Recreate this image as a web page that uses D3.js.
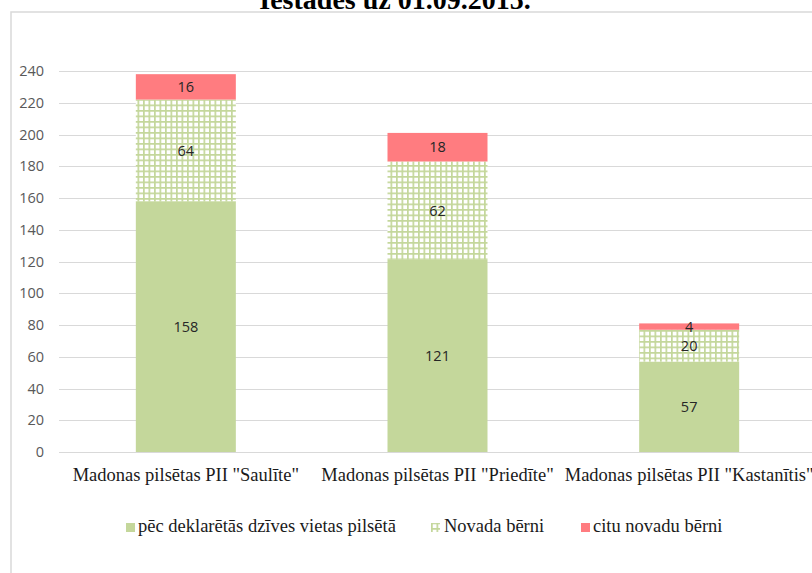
<!DOCTYPE html>
<html>
<head>
<meta charset="utf-8">
<script src="https://cdn.jsdelivr.net/npm/d3@7"></script>
<style>
  body { margin: 0; background: #fff; overflow: hidden; }
</style>
</head>
<body>
<div id="chart"></div>
<script>
// chart data
const categories = ['Madonas pilsētas PII "Saulīte"', 'Madonas pilsētas PII "Priedīte"', 'Madonas pilsētas PII "Kastanītis"'];
const seriesNames = ['pēc deklarētās dzīves vietas pilsētā', 'Novada bērni', 'citu novadu bērni'];
const cityValues = [158, 121, 57];
const regionValues = [64, 62, 20];
const otherValues = [16, 18, 4];
const yTicks = [0, 20, 40, 60, 80, 100, 120, 140, 160, 180, 200, 220, 240];
const title = 'Iestādes uz 01.09.2015.';

const width = 812, height = 573;
const green = '#C4D79B', red = '#FF7C80';

const svg = d3.select('#chart').append('svg')
    .attr('width', width)
    .attr('height', height);

// hatch pattern for "Novada bērni"
const defs = svg.append('defs');
const pat = defs.append('pattern')
    .attr('id', 'grid')
    .attr('patternUnits', 'userSpaceOnUse')
    .attr('width', 5.5)
    .attr('height', 5.5);
pat.append('rect').attr('width', 5.5).attr('height', 5.5).attr('fill', '#fff');
pat.append('rect').attr('x', 0).attr('y', 0).attr('width', 1.7).attr('height', 5.5).attr('fill', green);
pat.append('rect').attr('x', 0).attr('y', 0).attr('width', 5.5).attr('height', 1.7).attr('fill', green);

// chart frame
svg.append('rect')
    .attr('x', 11).attr('y', 12)
    .attr('width', 900).attr('height', 700)
    .attr('fill', 'none')
    .attr('stroke', '#d9d9d9')
    .attr('stroke-width', 1.5);

// title (mostly cut off above the frame, as in the source)
svg.append('text')
    .attr('x', 395).attr('y', 9)
    .attr('text-anchor', 'middle')
    .style('font-family', '"Liberation Serif", "Times New Roman", serif')
    .style('font-weight', 'bold')
    .style('font-size', '28px')
    .text(title);

const x = d3.scaleBand().domain(categories).range([60, 815]);
const y = d3.scaleLinear().domain([0, 240]).range([452, 71]);
const barWidth = 100;

// gridlines
svg.append('g')
    .selectAll('line')
    .data(yTicks)
    .join('line')
    .attr('x1', 59).attr('x2', width)
    .attr('y1', d => Math.round(y(d)) + 0.5)
    .attr('y2', d => Math.round(y(d)) + 0.5)
    .attr('stroke', '#d9d9d9')
    .attr('stroke-width', 1);

// y axis labels
const yAxis = svg.append('g')
    .attr('transform', 'translate(59,0)')
    .call(d3.axisLeft(y).tickValues(yTicks).tickSize(0).tickPadding(15));
yAxis.select('.domain').remove();
yAxis.selectAll('text')
    .style('font-family', '"Open Sans", "Noto Sans", sans-serif')
    .style('font-size', '14.5px')
    .attr('fill', '#595959');

// stack the series
const rows = categories.map((c, i) => ({ cat: c, city: cityValues[i], region: regionValues[i], other: otherValues[i] }));
const keys = ['city', 'region', 'other'];
const fills = [green, 'url(#grid)', red];
const stacked = d3.stack().keys(keys)(rows);

const barX = d => x(d.data.cat) + (x.bandwidth() - barWidth) / 2;

stacked.forEach((layer, li) => {
    svg.append('g')
        .selectAll('rect')
        .data(layer)
        .join('rect')
        .attr('x', barX)
        .attr('width', barWidth)
        .attr('y', d => y(d[1]))
        .attr('height', d => y(d[0]) - y(d[1]))
        .attr('fill', fills[li]);
});

// data labels
stacked.forEach(layer => {
    svg.append('g')
        .selectAll('text')
        .data(layer)
        .join('text')
        .attr('x', d => x(d.data.cat) + x.bandwidth() / 2)
        .attr('y', d => (y(d[0]) + y(d[1])) / 2)
        .attr('dy', '0.36em')
        .attr('text-anchor', 'middle')
        .style('font-family', '"Open Sans", "Noto Sans", sans-serif')
        .style('font-size', '14.5px')
        .attr('fill', '#262626')
        .text(d => d[1] - d[0]);
});

// category labels
svg.append('g')
    .selectAll('text')
    .data(categories)
    .join('text')
    .attr('x', d => x(d) + x.bandwidth() / 2)
    .attr('y', 481)
    .attr('text-anchor', 'middle')
    .style('font-family', '"Liberation Serif", "Times New Roman", serif')
    .style('font-size', '18.5px')
    .attr('fill', '#1a1a1a')
    .text(d => d);

// legend
const legendX = [126, 431, 581];
const legend = svg.append('g')
    .selectAll('g')
    .data(seriesNames)
    .join('g')
    .attr('transform', (d, i) => `translate(${legendX[i]},0)`);
legend.append('rect')
    .attr('x', 0).attr('y', 523)
    .attr('width', 9).attr('height', 9)
    .attr('fill', (d, i) => fills[i]);
legend.append('text')
    .attr('x', (d, i) => i === 1 ? 13 : 12)
    .attr('y', 532)
    .style('font-family', '"Liberation Serif", "Times New Roman", serif')
    .style('font-size', '18.5px')
    .attr('fill', '#1a1a1a')
    .text(d => d);
</script>
</body>
</html>
